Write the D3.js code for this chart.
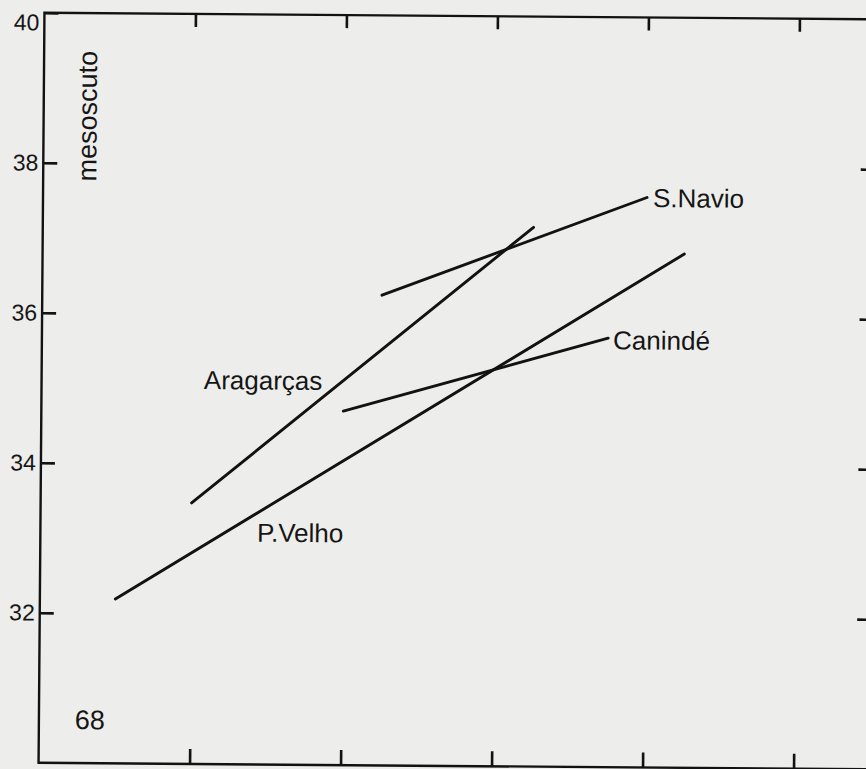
<!DOCTYPE html>
<html>
<head>
<meta charset="utf-8">
<script src="https://cdn.jsdelivr.net/npm/d3@7"></script>
<style>
  html, body { margin: 0; padding: 0; background: #ededeb; }
  svg { display: block; }
  text { font-family: "Liberation Sans", Arial, Helvetica, sans-serif; fill: #151515; }
</style>
</head>
<body>
<svg id="chart" width="866" height="769"></svg>
<script>
// Regression segments of mesoscuto against wing length, one per locality
const localities = ["Aragarças", "P.Velho", "S.Navio", "Canindé"];
const xStart = [70.0, 69.0, 72.5, 72.0];
const yStart = [33.48, 32.19, 36.27, 34.72];
const xEnd   = [74.5, 76.5, 76.0, 75.5];
const yEnd   = [37.19, 36.85, 37.6, 35.72];

// Axis ticks
const yTickValues = [32, 34, 36, 38, 40];
const yRightTicks = [32, 34, 36, 38];
const xTickValues = [70, 72, 74, 76, 78];
const xOriginLabel = "68";
const yTitle = "mesoscuto";

// Where each locality name sits
const labelPlacement = {
  "Aragarças": { at: [70.15, 35.0] },
  "P.Velho":   { at: [70.87, 32.97] },
  "S.Navio":   { end: [6, 9.5] },
  "Canindé":   { end: [5, 11] }
};

const svg = d3.select("#chart");

const x = d3.scaleLinear().domain([68, 79]).range([41.5, 41.5 + 11 * 75.5]);
const y = d3.scaleLinear().domain([30, 40]).range([766, 16]);

const g = svg.append("g").attr("transform", "rotate(0.45, 456, 391)");

const ink = "#121212";

// Frame
g.append("rect")
  .attr("x", x(68)).attr("y", y(40))
  .attr("width", x(79) - x(68)).attr("height", y(30) - y(40))
  .attr("fill", "none").attr("stroke", ink).attr("stroke-width", 2.4);

function styleAxis(sel) {
  sel.select(".domain").remove();
  sel.selectAll(".tick line").attr("stroke", ink).attr("stroke-width", 2.6);
  sel.selectAll(".tick text").attr("font-size", 23).attr("fill", "#151515")
     .attr("font-family", "Liberation Sans, Arial, sans-serif");
}

// Left axis with labels
const axisL = g.append("g").attr("transform", `translate(${x(68)},0)`)
  .call(d3.axisLeft(y).tickValues(yTickValues).tickSizeInner(-14).tickSizeOuter(0).tickPadding(5).tickFormat(d3.format("d")));
styleAxis(axisL);
axisL.selectAll(".tick").filter(d => d === 40).select("text").attr("dy", "0.75em");

// Right axis, ticks only
const axisR = g.append("g").attr("transform", `translate(${x(79)},0)`)
  .call(d3.axisRight(y).tickValues(yRightTicks).tickSizeInner(-13).tickSizeOuter(0).tickFormat(""));
styleAxis(axisR);

// Bottom axis, ticks only
const axisB = g.append("g").attr("transform", `translate(0,${y(30)})`)
  .call(d3.axisBottom(x).tickValues(xTickValues).tickSizeInner(-15).tickSizeOuter(0).tickFormat(""));
styleAxis(axisB);

// Top axis, ticks only
const axisT = g.append("g").attr("transform", `translate(0,${y(40)})`)
  .call(d3.axisTop(x).tickValues(xTickValues).tickSizeInner(-13).tickSizeOuter(0).tickFormat(""));
styleAxis(axisT);

// Origin label of the horizontal axis
g.append("text")
  .attr("x", x(68) + 36).attr("y", y(30) - 34)
  .attr("font-size", 27)
  .text(xOriginLabel);

// Vertical axis title
g.append("text")
  .attr("transform", `translate(${x(68) + 53},${y(40) + 103}) rotate(-90)`)
  .attr("text-anchor", "middle")
  .attr("font-size", 27)
  .text(yTitle);

// Segments
const segs = localities.map((name, i) => ({
  name, x0: xStart[i], y0: yStart[i], x1: xEnd[i], y1: yEnd[i]
}));

g.append("g").selectAll("line").data(segs).join("line")
  .attr("x1", d => x(d.x0)).attr("y1", d => y(d.y0))
  .attr("x2", d => x(d.x1)).attr("y2", d => y(d.y1))
  .attr("stroke", ink).attr("stroke-width", 2.9).attr("stroke-linecap", "round");

// Locality names
g.append("g").selectAll("text").data(segs).join("text")
  .attr("font-size", 26)
  .attr("x", d => {
    const p = labelPlacement[d.name];
    return p.at ? x(p.at[0]) : x(d.x1) + p.end[0];
  })
  .attr("y", d => {
    const p = labelPlacement[d.name];
    return p.at ? y(p.at[1]) : y(d.y1) + p.end[1];
  })
  .text(d => d.name);
</script>
</body>
</html>
